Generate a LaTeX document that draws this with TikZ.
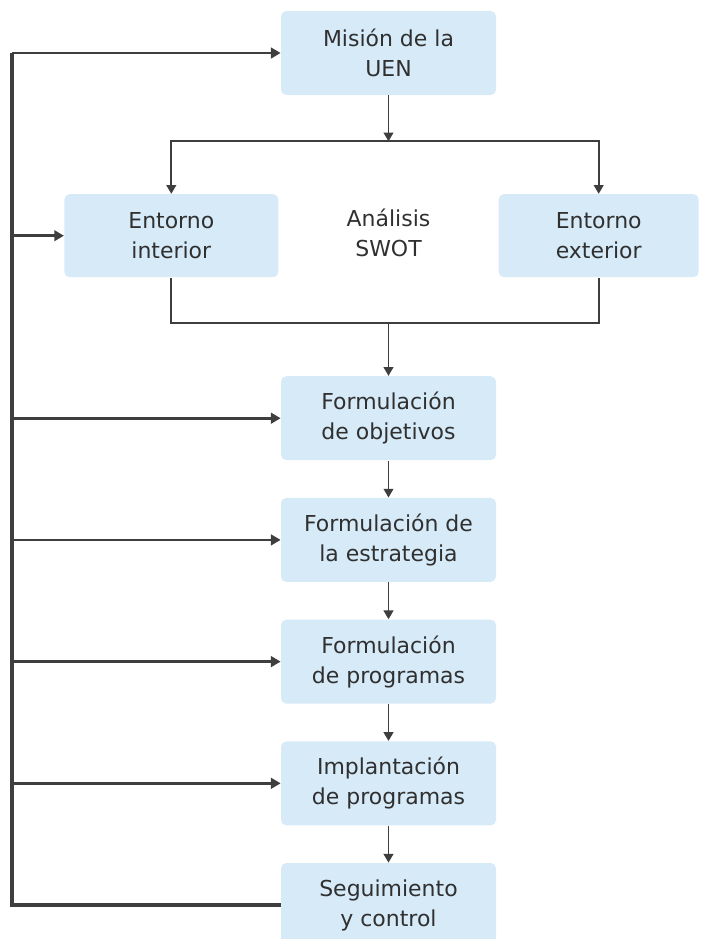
\documentclass[tikz,border=0pt]{standalone}
\usepackage{fontspec}
\setmainfont{DejaVu Sans}
\usepackage{tikz}
\usepackage{xcolor}
\usetikzlibrary{arrows.meta, positioning, calc}
\definecolor{cBox}{RGB}{214,234,248}
\definecolor{cLine}{RGB}{62,62,62}
\definecolor{cText}{RGB}{48,48,48}
\tikzset{
    stage/.style    ={rectangle, rounded corners=3pt, minimum width=4.3cm, minimum height=1.68cm, text centered, align=center, fill=cBox, text=cText},
    envbox/.style   ={stage, minimum width=4.28cm, minimum height=1.66cm},
    label/.style    ={align=center, text=cText},
    flowarrow/.style={-{Triangle[length=5pt, width=5.5pt]}, line width=1.1pt, draw=cLine},
    flowline/.style ={line width=1.1pt, draw=cLine},
    fbarrow/.style  ={-{Triangle[length=5.5pt, width=6pt]}, line width=1.6pt, draw=cLine},
    fbline/.style   ={line width=1.8pt, draw=cLine, line join=miter},
}

\begin{document}
\begin{tikzpicture}[font=\fontsize{12.5}{17}\selectfont, node distance=0.74cm]
                \useasboundingbox (0,0) rectangle (14.08,-18.78);
                \node[stage] (mision) at (7.77,-1.06) {Misión de la\\UEN};
                \node[envbox, below left=1.97cm and 0.04cm of mision] (int) {Entorno\\interior};
                \node[envbox, below right=1.97cm and 0.04cm of mision, minimum width=4cm] (ext) {Entorno\\exterior};
                \node[label] (swot) at ($(mision |- int)+(0,0.06)$) {Análisis\\SWOT};
                \node[stage, below=5.61cm of mision] (obj) {Formulación\\de objetivos};
                \node[stage, below=of obj] (estr) {Formulación de\\la estrategia};
                \node[stage, below=of estr] (prog) {Formulación\\de programas};
                \node[stage, below=of prog] (impl) {Implantación\\de programas};
                \node[stage, below=of impl] (seg) {Seguimiento\\y control};
                \coordinate (split) at ([yshift=-0.92cm]mision.south);
                \coordinate (join) at ($(mision |- int.south)+(0,-0.9)$);
                \coordinate (fb) at (0.24,-1.06);
                % analisis SWOT
                \draw[flowarrow] (mision) -- (split);
                \draw[flowarrow] (split) -| (int);
                \draw[flowarrow] (split) -| (ext);
                \draw[flowline] (int.south) |- (join) -| (ext.south);
                \draw[flowarrow] (join) -- (obj);
                \draw[flowarrow] (obj) -- (estr);
                \draw[flowarrow] (estr) -- (prog);
                \draw[flowarrow] (prog) -- (impl);
                \draw[flowarrow] (impl) -- (seg);
                % retroalimentacion
                \draw[fbline] (seg.west) -| (fb);
                \draw[fbarrow] (fb) -- (mision.west);
                \draw[fbarrow] (fb |- int.west) -- (int.west);
                \draw[fbarrow] (fb |- obj.west) -- (obj.west);
                \draw[fbarrow] (fb |- estr.west) -- (estr.west);
                \draw[fbarrow] (fb |- prog.west) -- (prog.west);
                \draw[fbarrow] (fb |- impl.west) -- (impl.west);
            \end{tikzpicture}
\end{document}
